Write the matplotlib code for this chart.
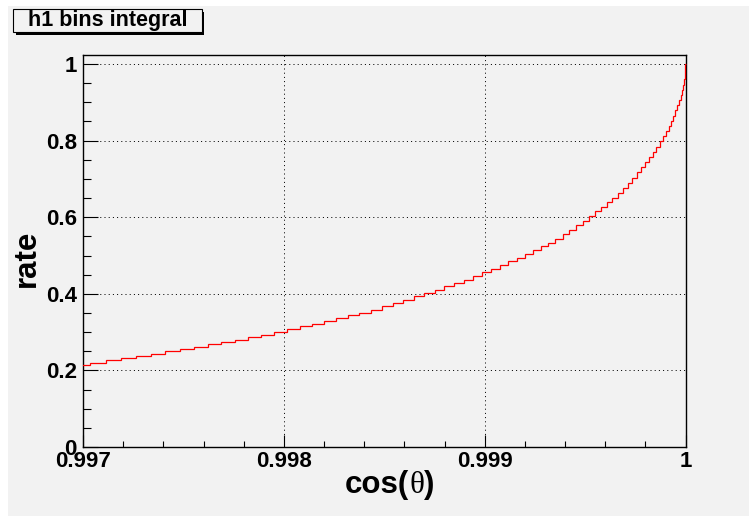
"""Cumulative bin integral of h1 against cos(theta), ROOT canvas look."""

import matplotlib
matplotlib.use("Agg")
import matplotlib.pyplot as plt
import numpy as np
from matplotlib.offsetbox import AnchoredOffsetbox, HPacker, TextArea
from matplotlib.patches import Rectangle
from matplotlib.ticker import FixedLocator, MultipleLocator

# histogram bins are 1 mrad wide in theta, edges 0..78 mrad
theta_edges_mrad = np.arange(0, 79)

# integral value of each theta bin (bin 0 = theta 0..1 mrad)
rate_values = [
    1.000, 0.987, 0.973, 0.960, 0.946, 0.933, 0.919, 0.906, 0.892, 0.879,
    0.865, 0.852, 0.838, 0.825, 0.811, 0.798, 0.784, 0.771, 0.757, 0.744,
    0.730, 0.717, 0.703, 0.690, 0.676, 0.663, 0.651, 0.639, 0.627, 0.615,
    0.603, 0.591, 0.579, 0.567, 0.555, 0.543, 0.533, 0.524, 0.514, 0.504,
    0.494, 0.485, 0.475, 0.465, 0.456, 0.446, 0.437, 0.428, 0.420, 0.411,
    0.402, 0.393, 0.384, 0.376, 0.367, 0.358, 0.351, 0.344, 0.337, 0.329,
    0.322, 0.315, 0.308, 0.301, 0.293, 0.286, 0.280, 0.274, 0.268, 0.262,
    0.256, 0.250, 0.244, 0.238, 0.232, 0.226, 0.220, 0.214,
]

x_ticks = [0.997, 0.998, 0.999, 1.0]
x_tick_labels = ["0.997", "0.998", "0.999", "1"]
y_ticks = [0.0, 0.2, 0.4, 0.6, 0.8, 1.0]
y_tick_labels = ["0", "0.2", "0.4", "0.6", "0.8", "1"]

PAD_GRAY = "#f2f2f2"
W, H = 749, 516
LABEL_SIZE = 22.5


def _x_title(ax):
    """cos( and ) in bold sans, theta in plain serif like ROOT's Symbol font."""
    bold = dict(fontsize=LABEL_SIZE, fontweight="bold")
    serif = dict(fontsize=LABEL_SIZE, fontweight="normal", family="Liberation Serif")
    parts = [TextArea("cos(", textprops=bold),
             TextArea("θ", textprops=serif),
             TextArea(")", textprops=bold)]
    box = HPacker(children=parts, align="baseline", pad=0, sep=0)
    anchored = AnchoredOffsetbox(loc="upper center", child=box, pad=0,
                                 borderpad=0, frameon=False,
                                 bbox_to_anchor=((390 - 83) / 602.5, -0.058),
                                 bbox_transform=ax.transAxes)
    ax.add_artist(anchored)


def _draw(fig):
    """Draw the pad, the frame and the histogram outline."""
    # gray pad, white strip at top/left like the ROOT canvas border
    fig.patches.append(Rectangle((8 / W, 0), 1 - 8 / W, 1 - 6 / H,
                                 transform=fig.transFigure,
                                 facecolor=PAD_GRAY, edgecolor="none", zorder=-10))

    ax = fig.add_axes([83 / W, 69 / H, 602.5 / W, 392 / H])
    ax.set_facecolor(PAD_GRAY)

    edges = np.cos(theta_edges_mrad[::-1] * 1e-3)
    values = np.array(rate_values)[::-1]
    hist = ax.stairs(values, edges, baseline=None, color="red",
                     linewidth=0.9, zorder=3)
    # let the last vertical step at cos = 1 show fully over the right frame
    hist.set_clip_path(Rectangle((0, 0), 1.004, 1.0, transform=ax.transAxes))

    ax.set_xlim(0.997, 1.0)
    ax.set_ylim(0.0, 1.0235)

    ax.xaxis.set_major_locator(FixedLocator(x_ticks))
    ax.xaxis.set_ticklabels(x_tick_labels)
    ax.xaxis.set_minor_locator(MultipleLocator(0.0002))
    ax.yaxis.set_major_locator(FixedLocator(y_ticks))
    ax.yaxis.set_ticklabels(y_tick_labels)
    ax.yaxis.set_minor_locator(MultipleLocator(0.05))

    ax.tick_params(axis="both", which="both", direction="in", width=0.8,
                   colors="black", labelsize=16)
    ax.tick_params(axis="x", which="major", length=8.6, pad=3)
    ax.tick_params(axis="x", which="minor", length=4.3)
    ax.tick_params(axis="y", which="major", length=11, pad=4.5)
    ax.tick_params(axis="y", which="minor", length=5.5)

    ax.grid(True, which="major", color="black", linewidth=0.72,
            linestyle=(0, (1, 3.2)))

    for spine in ax.spines.values():
        spine.set_linewidth(1.0)
        spine.set_color("black")

    _x_title(ax)
    ax.set_ylabel("rate", fontsize=LABEL_SIZE, fontweight="bold")
    ax.yaxis.set_label_coords(-0.068, (447 - 258) / 392)

    # title box with a drop shadow
    bx0, by0, bx1, by1 = 13.3, 9.3, 201.7, 32.3
    fig.patches.append(Rectangle(((bx0 + 2.5) / W, 1 - (by1 + 2.5) / H),
                                 (bx1 - bx0) / W, (by1 - by0) / H,
                                 transform=fig.transFigure, facecolor="black",
                                 edgecolor="none", zorder=4))
    fig.patches.append(Rectangle((bx0 / W, 1 - by1 / H),
                                 (bx1 - bx0) / W, (by1 - by0) / H,
                                 transform=fig.transFigure, facecolor=PAD_GRAY,
                                 edgecolor="black", linewidth=0.8, zorder=5))
    fig.text((bx0 + bx1) / 2 / W, 1 - 20.5 / H, "h1 bins integral",
             ha="center", va="center", fontsize=15.5, zorder=6)


def main():
    plt.rcParams["font.family"] = ["Liberation Sans", "DejaVu Sans"]
    plt.rcParams["font.weight"] = "bold"

    fig = plt.figure(figsize=(W / 100, H / 100), dpi=100, facecolor="white")
    _draw(fig)
    fig.savefig("out.png", dpi=100, facecolor=fig.get_facecolor())


if __name__ == "__main__":
    main()
